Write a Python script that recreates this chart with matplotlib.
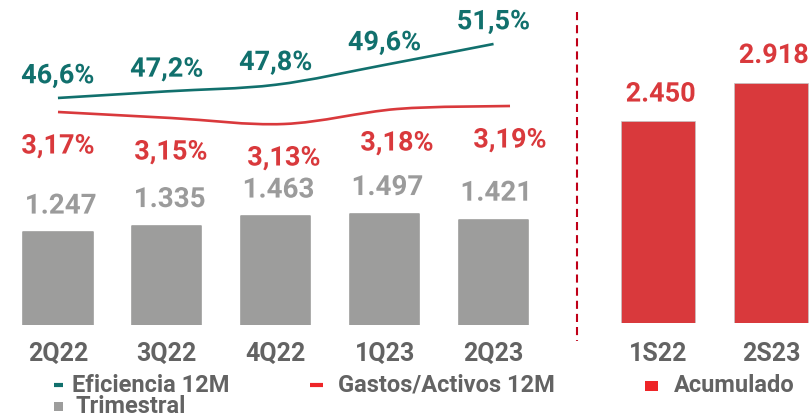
import matplotlib
matplotlib.use("Agg")
import matplotlib.pyplot as plt
import matplotlib.patheffects as pe
from matplotlib.path import Path
from matplotlib.patches import PathPatch, Rectangle
from matplotlib.lines import Line2D

plt.rcParams['font.family'] = ['Roboto', 'DejaVu Sans']
plt.rcParams['font.weight'] = 'bold'

# datos trimestrales
trimestres = ["2Q22", "3Q22", "4Q22", "1Q23", "2Q23"]
trimestral = [1247, 1335, 1463, 1497, 1421]
eficiencia = [46.6, 47.2, 47.8, 49.6, 51.5]
gastos_activos = [3.17, 3.15, 3.13, 3.18, 3.19]

# acumulado semestral
semestres = ["1S22", "2S23"]
acumulado = [2450, 2918]

TEAL = "#11706d"
RED = "#d9393c"
GREY_BAR = "#9d9d9c"
GREY_LBL = "#9b9b9b"
GREY_TXT = "#636363"

W, H = 810, 418
fig = plt.figure(figsize=(W / 100, H / 100), dpi=100)


def box(left, bottom, width, height):
    # caja en pixeles (origen abajo-izquierda) a fracciones de figura
    return [left / W, bottom / H, width / W, height / H]


def num_es(v):
    return f"{v:,}".replace(",", ".")


def pct_es(v, dec):
    return f"{v:.{dec}f}%".replace(".", ",")


def curva_suave(ax, xs, ys, color, lw):
    # spline tipo Catmull-Rom dibujada como beziers cubicos
    pts = list(zip(xs, ys))
    ext = [pts[0]] + pts + [pts[-1]]
    verts = [pts[0]]
    codes = [Path.MOVETO]
    for i in range(1, len(ext) - 2):
        p0, p1, p2, p3 = ext[i - 1], ext[i], ext[i + 1], ext[i + 2]
        c1 = (p1[0] + (p2[0] - p0[0]) / 6, p1[1] + (p2[1] - p0[1]) / 6)
        c2 = (p2[0] - (p3[0] - p1[0]) / 6, p2[1] - (p3[1] - p1[1]) / 6)
        verts += [c1, c2, p2]
        codes += [Path.CURVE4] * 3
    ax.add_patch(PathPatch(Path(verts, codes), fill=False, edgecolor=color,
                           lw=lw, capstyle='butt', zorder=3))


halo = [pe.withStroke(linewidth=3.5, foreground="white")]

# --- barras trimestrales ---
ax = fig.add_axes(box(3.5, 93, 544.5, 325))
x = list(range(len(trimestres)))
ax.bar(x, trimestral, width=0.635, color=GREY_BAR, edgecolor=GREY_BAR,
       linewidth=1.2, joinstyle='round')
ax.set_xlim(-0.5, 4.5)
ax.set_ylim(0, 4380)
for xi, v in zip(x, trimestral):
    ax.annotate(num_es(v), (xi, v), xytext=(2, 19), textcoords='offset points',
                ha='center', va='center', fontsize=20, color=GREY_LBL,
                path_effects=halo)
for xi, lab in zip(x, trimestres):
    ax.annotate(lab, (xi, 0), xycoords=('data', 'axes fraction'),
                xytext=(0, -21), textcoords='offset points',
                ha='center', va='center', fontsize=18, color=GREY_TXT)
ax.axis('off')

# --- eficiencia 12M ---
ax_ef = fig.add_axes(box(3.5, 93, 544.5, 325))
ax_ef.set_xlim(-0.5, 4.5)
ax_ef.set_ylim(26.0, 55.49)
curva_suave(ax_ef, x, eficiencia, TEAL, 1.9)
for xi, v in zip(x, eficiencia):
    ax_ef.annotate(pct_es(v, 1), (xi, v), xytext=(0, 16), textcoords='offset points',
                   ha='center', va='center', fontsize=19.5, color=TEAL,
                   path_effects=halo)
ax_ef.axis('off')

# --- gastos / activos 12M ---
ax_ga = fig.add_axes(box(1.5, 93, 565, 325))
ax_ga.set_xlim(-0.5, 4.5)
ax_ga.set_ylim(2.46, 3.5433)
curva_suave(ax_ga, x, gastos_activos, RED, 1.9)
for xi, v in zip(x, gastos_activos):
    ax_ga.annotate(pct_es(v, 2), (xi, v), xytext=(0, -24.5), textcoords='offset points',
                   ha='center', va='center', fontsize=19.5, color=RED,
                   path_effects=halo)
ax_ga.axis('off')

# --- acumulado ---
ax_ac = fig.add_axes(box(601.5, 95, 226, 323))
xs = list(range(len(semestres)))
ax_ac.bar(xs, acumulado, width=0.655, color=RED, edgecolor="#c4c4c4", linewidth=0.5)
ax_ac.set_xlim(-0.5, 1.5)
ax_ac.set_ylim(0, 3920)
for xi, v in zip(xs, acumulado):
    ax_ac.annotate(num_es(v), (xi, v), xytext=(2, 19.5), textcoords='offset points',
                   ha='center', va='center', fontsize=19.5, color=RED,
                   path_effects=halo)
for xi, lab in zip(xs, semestres):
    ax_ac.annotate(lab, (xi, 0), xycoords=('data', 'axes fraction'),
                   xytext=(0, -22), textcoords='offset points',
                   ha='center', va='center', fontsize=18, color=GREY_TXT)
ax_ac.axis('off')

# separador vertical
fig.add_artist(Line2D([577 / W, 577 / W], [1 - 12 / H, 1 - 341 / H],
                      color="#c00018", lw=1.5, dashes=(3.9, 2.4)))

# --- leyenda ---
def fy(y):
    return 1 - y / H


def leyenda_linea(x0, x1, y, color, texto, xt):
    fig.add_artist(Line2D([x0 / W, x1 / W], [fy(y), fy(y)], color=color,
                          lw=3, solid_capstyle='butt'))
    fig.text(xt / W, fy(y), texto, ha='left', va='center', fontsize=17,
             color=GREY_TXT)


def leyenda_caja(x0, x1, y0, y1, color, texto, xt):
    fig.add_artist(Rectangle((x0 / W, fy(y1)), (x1 - x0) / W, (y1 - y0) / H,
                             transform=fig.transFigure, color=color, lw=0))
    fig.text(xt / W, fy((y0 + y1) / 2), texto, ha='left', va='center',
             fontsize=17, color=GREY_TXT)


leyenda_linea(54, 63, 385, TEAL, "Eficiencia 12M", 72)
leyenda_linea(310, 323, 385, "#ee2528", "Gastos/Activos 12M", 338)
leyenda_caja(645, 658, 381, 391, "#ee2528", "Acumulado", 674)
leyenda_caja(54, 63, 402, 411, GREY_BAR, "Trimestral", 76)

fig.savefig("out.png", dpi=100)
